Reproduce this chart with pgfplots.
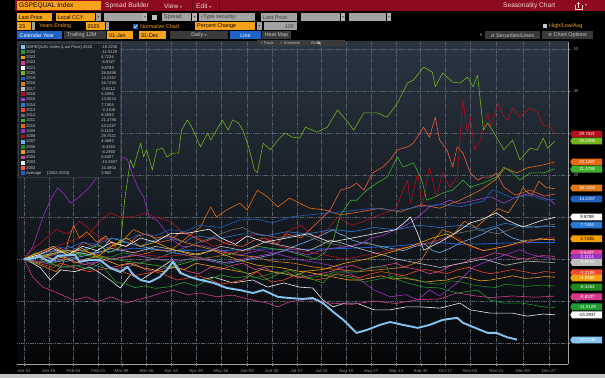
\documentclass[border=0pt]{standalone}
\usepackage{pgfplots}
\pgfplotsset{compat=1.18}
\usepackage{fontspec}
\setmainfont{Liberation Sans}
\newfontfamily\dejavu{DejaVu Sans}
\usetikzlibrary{shapes.symbols}
\definecolor{tbred}{HTML}{8E0B1F}
\definecolor{tbredtxt}{HTML}{F2D6D6}
\definecolor{tborange}{HTML}{F7A21B}
\definecolor{tbgrey}{HTML}{A3A3A3}
\definecolor{tbgtxt}{HTML}{3A3A3A}
\definecolor{tbdark}{HTML}{3A3A3A}
\definecolor{tbdtxt}{HTML}{C4C4C4}
\definecolor{tbblue}{HTML}{1E63C6}
\definecolor{bgtop}{HTML}{2A3542}
\definecolor{bgbot}{HTML}{040506}
\definecolor{gridc}{HTML}{56606B}
\definecolor{legbg}{HTML}{1B2129}
\definecolor{legbd}{HTML}{333B45}
\definecolor{legtxt}{HTML}{C8C8C8}
\definecolor{c2025}{HTML}{84C4F2}
\definecolor{c2024}{HTML}{1E9A2E}
\definecolor{c2023}{HTML}{F5A000}
\definecolor{c2022}{HTML}{D6398C}
\definecolor{c2021}{HTML}{F4F4F4}
\definecolor{c2020}{HTML}{70B41E}
\definecolor{c2019}{HTML}{1F5FBF}
\definecolor{c2018}{HTML}{E07818}
\definecolor{c2017}{HTML}{BEBEBE}
\definecolor{c2016}{HTML}{B01020}
\definecolor{c2015}{HTML}{A040D0}
\definecolor{c2014}{HTML}{2A7AD4}
\definecolor{c2013}{HTML}{F04830}
\definecolor{c2012}{HTML}{6E6E6E}
\definecolor{c2011}{HTML}{3CB028}
\definecolor{c2010}{HTML}{E86A10}
\definecolor{c2009}{HTML}{9A30C0}
\definecolor{c2008}{HTML}{B40E1C}
\definecolor{c2007}{HTML}{70B0F0}
\definecolor{c2006}{HTML}{208A20}
\definecolor{c2005}{HTML}{F0A010}
\definecolor{c2004}{HTML}{E04090}
\definecolor{c2003}{HTML}{EDEDED}
\definecolor{c2002}{HTML}{F05A40}
\definecolor{cavg}{HTML}{2060D0}
\newcommand{\tba}{\fontsize{6.6}{7}\selectfont}
\newcommand{\tbb}{\fontsize{5.4}{6}\selectfont}
\newcommand{\tri}{{\dejavu\fontsize{3.6}{4}\selectfont ▾}}
\newcommand{\legent}[2]{\hspace{1.4pt}\makebox[75pt][l]{#1}#2}
\begin{document}
\begin{tikzpicture}
\fill[black] (0,0) rectangle (605pt,378pt);
\begin{scope}[x=1pt,y=-1pt,yshift=378pt]
% bottom strip
\fill[gray!45] (0,373.5) rectangle (605,378);
% row 1
\fill[tbred] (15,0) rectangle (605,11);
\fill[tborange] (17,1) rectangle (101,10.5);
\node[anchor=west,inner sep=0,font=\tba,text=black] at (19,5.9) {GSPEQUAL Index};
\node[anchor=west,inner sep=0,font=\tba,text=tbredtxt] at (105,5.9) {Spread Builder};
\node[anchor=west,inner sep=0,font=\tba,text=tbredtxt] at (164,5.9) {View \tri};
\node[anchor=west,inner sep=0,font=\tba,text=tbredtxt] at (196,5.9) {Edit \tri};
\foreach \s in {161.5,192.5,219} \draw[tbred!60!black,line width=0.6pt] (\s,1) -- (\s,10.5);
\node[anchor=west,inner sep=0,font=\tba,text=tbredtxt] at (503,5.9) {Seasonality Chart};
\draw[tbredtxt,line width=0.6pt] (575,5) -- (575,9) -- (582,9) -- (582,5);
\draw[tbredtxt,line width=0.6pt] (578.5,8) -- (578.5,2.5) (576.8,4.2) -- (578.5,2.5) -- (580.2,4.2);
\node[anchor=west,inner sep=0,font=\tbb,text=tbredtxt] at (585,6) {\tri};
% row 2
\fill[tborange] (17,13) rectangle (52,21.5);
\node[anchor=west,inner sep=0,font=\tbb,text=black] at (18.5,17.4) {Last Price};
\fill[tborange] (56,13) rectangle (95,21.5);
\node[anchor=west,inner sep=0,font=\tbb,text=black] at (57.5,17.4) {Local CCY};
\fill[tbgrey] (96,13) rectangle (101,21.5);
\node[inner sep=0,text=tbgtxt] at (98.5,17.4) {\tri};
\fill[tbgrey] (104,13) rectangle (142.5,21.5);
\fill[tbgrey!80] (143,13) rectangle (147,21.5);
\node[inner sep=0,text=tbgtxt] at (145,17.4) {\tri};
\fill[tbgrey!70] (152,14.8) rectangle (157,19.8);
\fill[tbgrey] (162,13) rectangle (191,21.5);
\node[anchor=west,inner sep=0,font=\tbb,text=tbgtxt] at (164,17.4) {Spread};
\fill[tbgrey!80] (192,13) rectangle (197,21.5);
\node[inner sep=0,text=tbgtxt] at (194.5,17.4) {\tri};
\fill[tbgrey] (199,13) rectangle (255,21.5);
\node[anchor=west,inner sep=0,font=\tbb,text=tbgtxt] at (201,17.4) {‹Type security›};
\fill[tbgrey] (261,13) rectangle (297,21.5);
\node[anchor=west,inner sep=0,font=\tbb,text=tbgtxt] at (263,17.4) {Last Price};
\fill[tbgrey] (301,13) rectangle (340,21.5);
\fill[tbgrey!80] (341,13) rectangle (345,21.5);
\node[inner sep=0,text=tbgtxt] at (343,17.4) {\tri};
\fill[tbgrey] (349,13) rectangle (386,21.5);
\fill[tbgrey!80] (387,13) rectangle (391,21.5);
\node[inner sep=0,text=tbgtxt] at (389,17.4) {\tri};
% row 3
\fill[tborange] (17,22.5) rectangle (31,30);
\node[anchor=west,inner sep=0,font=\tbb,text=black] at (19,26.4) {23};
\fill[tbgrey] (31.5,22.5) rectangle (35,30);
\node[anchor=west,inner sep=0,font=\tbb,text=tborange] at (39,26.4) {Years Ending};
\fill[tborange] (86,22.5) rectangle (105,30);
\node[anchor=west,inner sep=0,font=\tbb,text=black] at (87.5,26.4) {2025};
\fill[tbgrey] (105.5,22.5) rectangle (109,30);
\fill[tbblue] (133,23.8) rectangle (138,28.8);
\draw[white,line width=0.5pt] (134,26.3) -- (135.3,27.7) -- (137.2,24.8);
\node[anchor=west,inner sep=0,font=\tbb,text=tborange] at (140,26.4) {Normalize Chart};
\fill[tborange] (195,22.5) rectangle (255,30);
\node[anchor=west,inner sep=0,font=\tbb,text=black] at (197,26.4) {Percent Change};
\fill[tbgrey] (257,22.5) rectangle (262,30);
\node[inner sep=0,text=tbgtxt] at (259.5,26.4) {\tri};
\fill[tbgrey] (264,22.5) rectangle (297,30);
\node[anchor=east,inner sep=0,font=\tbb,text=tbgtxt] at (294,26.4) {100};
\fill[tbgrey!60] (543,24.3) rectangle (547,28.3);
\node[anchor=west,inner sep=0,font=\tbb,text=tborange] at (549,26.4) {High/Low/Avg};
% row 4
\fill[tbblue] (17,31) rectangle (62,39.5);
\node[anchor=west,inner sep=0,font=\tbb,text=white] at (19.5,35.4) {Calendar Year};
\fill[tbdark] (64,31) rectangle (106,39.5);
\node[anchor=west,inner sep=0,font=\tbb,text=tbdtxt] at (67,35.4) {Trailing 12M};
\fill[tborange] (107,31) rectangle (133,39.5);
\node[anchor=west,inner sep=0,font=\tbb,text=black] at (109,35.4) {01-Jan};
\node[inner sep=0,font=\tbb,text=tborange] at (136,35.4) {-};
\fill[tborange] (139,31) rectangle (166,39.5);
\node[anchor=west,inner sep=0,font=\tbb,text=black] at (141,35.4) {31-Dec};
\fill[tbdark] (170,31) rectangle (228,39.5);
\node[inner sep=0,font=\tbb,text=tbdtxt] at (199,35.4) {Daily \tri};
\fill[tbblue] (230,31) rectangle (261,39.5);
\node[inner sep=0,font=\tbb,text=white] at (245.5,35.4) {Line};
\fill[tbdark] (262,31) rectangle (291,39.5);
\node[inner sep=0,font=\tbb,text=tbdtxt] at (276.5,35.4) {Heat Map};
\node[inner sep=0,font=\tbb,text=tbdtxt] at (481,35.4) {«};
\fill[tbdark] (485,31) rectangle (540,39.5);
\node[inner sep=0,font=\tbb,text=tbdtxt] at (512.5,35.4) {{\dejavu\fontsize{4.5}{5}\selectfont ⇄} Securities/Lines};
\fill[tbdark] (542,31) rectangle (593,39.5);
\node[inner sep=0,font=\tbb,text=tbdtxt] at (567.5,35.4) {{\dejavu\fontsize{4.5}{5}\selectfont ⚙} Chart Options};
\end{scope}

\begin{axis}[
  at={(17pt,14pt)}, anchor=south west, scale only axis,
  width=551pt, height=322pt,
  xmin=-4.8, xmax=373, ymin=-25, ymax=51.67,
  axis background/.style={top color=bgtop, bottom color=bgbot},
  axis x line*=bottom, axis y line*=right,
  axis line style={-, draw=gray!75, line width=0.5pt},
  xtick={0,17,34,51,67,84,101,118,135,153,170,187,204,221,238,255,272,289,306,324,342,360},
  xticklabels={Jan-01,Jan-18,Feb-04,Feb-21,Mar-09,Mar-26,Apr-12,Apr-29,May-16,Jun-03,Jun-20,Jul-07,Jul-24,Aug-10,Aug-27,Sep-13,Sep-30,Oct-17,Nov-03,Nov-21,Dec-09,Dec-27},
  ytick={-20,-10,0,10,20,30,40,50},
  grid=major, major grid style={dash pattern=on 1.2pt off 0.6pt, gridc, line width=0.45pt},
  tick align=outside, major tick length=2pt, tick style={gray!75, line width=0.4pt},
  tick label style={font=\fontsize{4.4}{5}\selectfont, text=gray!85},
  xticklabel style={yshift=0.5pt},
  /pgf/number format/assume math mode=true,
  every axis plot/.append style={line width=0.6pt, line join=round},
  reverse legend,
  legend cell align=left,
  legend image code/.code={\fill[#1,draw=none] (0pt,-1.8pt) rectangle (3.8pt,1.9pt);},
  legend style={at={(axis description cs:0,1)}, anchor=north west, xshift=1pt, yshift=-1pt,
    fill=legbg, draw=legbd, line width=0.4pt, text=legtxt,
    font=\fontsize{4.1}{4.5}\selectfont, inner xsep=2.5pt, inner ysep=1.5pt,
    row sep=0.56pt, nodes={inner sep=0.35pt, text height=3.1pt, text depth=0.9pt}},
]
% Average
\addplot[cavg, line width=0.8pt] coordinates {(0,0) (15,0.8) (30,1.2) (45,1.5) (60,1.8) (75,2.6) (90,2.2) (105,2) (120,2.1) (135,2.0) (150,2.2) (165,2.4) (180,2.2) (195,2.3) (210,2.4) (225,2.6) (240,2.8) (255,3.1) (270,3.6) (285,3.9) (300,3.5) (315,3.6) (330,3.8) (345,3.9) (364,3.96)};
% 2002
\addplot[c2002] coordinates {(0,0) (10,-1) (18,1.5) (25,2.5) (33,1) (40,4) (48,3) (55,5) (63,3.5) (70,3) (78,5.5) (85,6) (93,4) (100,4.5) (108,6.5) (115,5.5) (123,4) (130,5) (140,3.5) (150,3) (158,4.5) (165,5) (173,3.5) (180,6) (190,5) (196,7) (201,8.6) (210,11.7) (217,16.4) (224,17.1) (228,18.1) (233,16.4) (239,20.5) (246,21.9) (251,23.6) (256,26) (263,26.7) (267,27.6) (274,31.4) (278,29) (282,33.8) (285,28.3) (290,26) (294,21.9) (297,26.7) (301,25.2) (306,20.5) (311,18.8) (315,19.5) (320,19.5) (324,20.5) (329,17.1) (337,15.2) (347,16.4) (357,15) (364,15.49)};
% 2003
\addplot[c2003] coordinates {(0,0) (6,-1) (11,-2) (18,-5) (25,-2.6) (35,-3) (45,-1.9) (52,-3.3) (59,-5) (66,-6.9) (74,-3.3) (80,-5) (91,-2.6) (102,-0.2) (108,-3.3) (114,-4.3) (121,-5) (130,-4.3) (143,-5.7) (157,-5) (167,-6.7) (178,-5.7) (189,-6.7) (198,-6.9) (205,-9.8) (212,-11.4) (220,-10.5) (228,-10.5) (240,-12.1) (251,-12.1) (262,-11.4) (272,-11.4) (285,-11.7) (299,-10.5) (306,-12.1) (320,-12.9) (335,-12.9) (345,-13.6) (356,-13.1) (364,-13.29)};
% 2004
\addplot[c2004] coordinates {(0,0) (8,0.5) (15,1) (22,-0.5) (30,0) (38,-1) (45,-1.5) (52,-0.5) (60,-2) (68,-1.5) (75,-1) (83,-2.5) (90,-3) (98,-2) (105,-2) (113,-3) (120,-3.5) (128,-2) (135,-2.5) (143,-1.5) (150,-1) (158,-2.5) (165,-2) (173,-3.5) (180,-3) (188,-4.5) (195,-4) (203,-3.5) (210,-3) (218,-2) (225,-1.5) (233,-2.5) (240,-2) (248,-1.5) (255,-1) (262,-2) (270,-2.5) (278,-3.5) (285,-3) (293,-1.5) (300,-1) (308,0) (315,0.5) (323,1.5) (330,1) (338,0.2) (345,0) (355,0.8) (364,0.64)};
% 2005
\addplot[c2005] coordinates {(0,0) (10,1) (20,0) (28,0.5) (35,-1) (42,0) (50,0.5) (58,-0.5) (65,-1.5) (72,-1) (80,-2) (88,-2.5) (95,-3) (102,-2) (110,-2.5) (118,-1) (125,-1.5) (133,-2) (140,-2.5) (148,-3) (155,-3.5) (163,-2.5) (170,-3) (178,-3.5) (185,-4) (193,-3) (200,-3.5) (208,-4) (215,-4.5) (223,-5) (230,-5) (238,-4.5) (245,-4) (253,-4.8) (260,-4.5) (268,-5) (275,-5.5) (283,-5.2) (290,-5) (298,-4.2) (305,-4.5) (313,-5.2) (320,-5) (328,-4.5) (335,-4) (343,-4.6) (350,-4.5) (357,-4.2) (364,-4.30)};
% 2006
\addplot[c2006] coordinates {(0,0) (8,0.5) (15,1) (23,1.5) (30,2) (38,1) (45,1.5) (53,0.5) (60,0.5) (68,1.5) (75,1) (83,0.5) (90,0) (98,-0.5) (105,-1) (113,0) (120,0.5) (128,-0.5) (135,-1) (143,-2) (150,-3) (158,-4.5) (165,-4) (173,-3) (180,-3.5) (188,-4) (195,-4.5) (203,-4) (210,-3.5) (218,-4) (225,-4.5) (233,-5.5) (240,-5) (248,-4.5) (255,-4) (263,-4.5) (270,-5) (278,-5.8) (285,-6) (293,-5.2) (300,-5.5) (308,-6.2) (315,-6.5) (323,-6.8) (330,-6) (338,-6.3) (345,-6.5) (355,-6.2) (364,-6.42)};
% 2007
\addplot[c2007] coordinates {(0,0) (8,1) (15,0.5) (22,-0.5) (30,-0.5) (38,0.5) (45,1) (50,2) (55,3) (60,5) (65,4.5) (70,4) (75,3.5) (80,3) (88,2.5) (95,2) (103,1.5) (110,1) (118,0.5) (125,0) (133,-0.5) (140,-1) (148,-0.5) (155,0) (163,0.5) (170,1) (178,2) (185,3) (193,4) (200,5) (206,6) (212,7) (216,6) (220,5.5) (225,4.5) (230,4) (238,3.5) (245,3) (252,2.5) (260,2) (268,3) (275,3.5) (280,2) (285,1.5) (292,2.5) (300,4) (308,5) (315,6) (320,7) (325,7.5) (330,6) (335,5) (340,4.5) (345,4) (350,4.5) (355,5) (364,4.47)};
% 2008
\addplot[c2008] coordinates {(0,0) (8,1) (15,2) (22,3) (30,4) (38,5) (45,6) (52,9) (59,11) (66,10) (75,10) (83,11) (90,10) (100,9) (105,7.5) (110,6) (120,5) (130,3) (140,4) (150,5) (160,6) (168,5.5) (175,5) (183,7) (190,8) (200,5) (208,7) (215,10) (225,8) (233,9) (240,10) (248,11) (255,12) (260,16.4) (263,18.8) (265,13.3) (270,20.5) (273,12.4) (278,21.9) (283,14.8) (287,20.5) (292,17.1) (297,19.5) (301,37.9) (304,30) (306,33.8) (309,26) (313,28.3) (318,34.8) (320,31.4) (325,37.1) (329,33.8) (332,33.1) (335,36) (340,33.8) (347,36) (352,35) (356,31.9) (361,31.4) (364,29.75)};
% 2009
\addplot[c2009] coordinates {(0,0) (6,2.9) (13,10) (18,14) (23,16.9) (27,15.7) (32,13.3) (38,14.8) (45,17.1) (50,19.5) (54,22.9) (59,22.9) (67,24.3) (71,23.6) (74,20.5) (78,17.1) (82,14.8) (86,10) (91,9.3) (98,6.2) (102,4.5) (109,2.9) (121,3.3) (134,2.1) (148,1) (162,2.1) (176,1) (189,-0.2) (203,-1) (215,-1.9) (228,-4.3) (240,-7.4) (251,-9) (262,-8.5) (270,-9.8) (278,-7.4) (285,-8.8) (297,-5.7) (308,-1.9) (318,-0.5) (326,0.5) (334,1.5) (340,2.2) (348,1) (356,0.5) (364,0.11)};
% 2010
\addplot[c2010] coordinates {(0,0) (10,0.5) (20,1) (30,2) (40,2) (50,1) (60,0) (70,0.5) (80,1) (90,2) (100,2) (106,3.5) (112,5.2) (121,7.6) (128,12.4) (132,10) (139,11.7) (148,13.3) (153,11.7) (160,16.4) (167,14.8) (174,12.4) (182,14.5) (189,13.3) (196,12.1) (206,11.7) (217,10.5) (230,11.2) (244,12.1) (258,11.2) (272,12.9) (285,12.1) (299,14) (313,16.4) (323,18.8) (330,21.7) (338,20.5) (345,21.7) (356,22.4) (364,23.13)};
% 2011
\addplot[c2011] coordinates {(0,0) (10,0.5) (20,-1) (30,0) (40,1) (50,0.5) (60,0) (70,-0.5) (80,-1) (90,-1.5) (100,-2) (110,-1) (120,0) (130,0.5) (140,1) (150,2) (160,3) (170,2.5) (180,2) (190,1) (200,0) (206,1.5) (212,4.5) (217,10.5) (224,14) (228,14) (235,16.4) (242,18.1) (249,19.5) (256,24.3) (260,21.9) (267,22.9) (272,19.5) (274,17.1) (276,14) (282,14.8) (287,15.7) (294,16.4) (301,18.8) (306,17.1) (315,18.1) (324,19.5) (329,21.9) (335,20.5) (340,18.8) (347,20.5) (356,20.5) (364,21.48)};
% 2012
\addplot[c2012] coordinates {(0,0) (8,-0.5) (15,-1) (23,-1.5) (30,-2) (38,-1.5) (45,-1) (53,-2) (60,-2.5) (68,-2) (75,-1.5) (83,-0.5) (90,0) (98,1) (105,2) (113,3) (120,4) (128,5) (135,6) (143,7) (150,7.5) (155,6.5) (160,6) (168,5.5) (175,5) (183,5.5) (190,6) (198,5) (205,4) (213,3.5) (220,3) (228,3.5) (235,4) (243,3) (250,2) (258,2.5) (265,3) (273,3.5) (280,4) (288,5) (295,6) (303,6.5) (310,7) (318,6.5) (325,6) (333,7) (340,8) (346,7.8) (352,7.5) (358,8) (364,8.27)};
% 2013
\addplot[c2013] coordinates {(0,0) (10,-1) (20,-2) (25,-1) (30,-1.5) (38,-2.5) (45,-3) (53,-2.5) (60,-2) (68,-3) (75,-4) (83,-3.5) (90,-3) (98,-4) (105,-5) (113,-4.5) (120,-4) (128,-5) (135,-6) (143,-5.5) (150,-5) (155,-4) (160,-3) (165,-4.5) (170,-5.5) (178,-5) (185,-4) (193,-4.5) (200,-5) (208,-4.5) (215,-3.5) (223,-4) (230,-4.5) (238,-3.5) (245,-3) (253,-3.5) (260,-4) (268,-3) (275,-2.5) (283,-3) (290,-3.5) (298,-2.5) (305,-2) (313,-3) (320,-3.5) (328,-3) (335,-2.5) (343,-3) (350,-3.5) (357,-3) (364,-3.21)};
% 2014
\addplot[c2014] coordinates {(0,0) (10,1) (20,2) (25,1.5) (30,3) (35,2.5) (40,2) (45,3) (50,3.5) (55,2.5) (60,3) (65,4) (70,4) (75,3.5) (80,3) (85,4) (90,4.5) (95,5) (100,5) (105,4.5) (110,4) (115,5) (120,5.5) (128,5) (135,5) (143,5.5) (150,6) (158,6) (165,5.5) (173,6) (180,6.5) (188,6.2) (195,6) (203,6.5) (210,7) (218,6.8) (225,6.5) (233,7) (240,7.5) (248,7.2) (255,7) (263,7.5) (270,8) (278,7.8) (285,7.5) (293,7.8) (300,8) (308,7.5) (315,7) (323,7.8) (330,8.5) (338,8) (345,7.5) (355,7.8) (364,7.74)};
% 2015
\addplot[c2015] coordinates {(0,0) (8,-0.5) (15,-1) (23,-0.5) (30,0.5) (38,0) (45,-1) (53,-0.5) (60,0) (68,0.5) (75,1) (83,0.5) (90,0) (98,-0.2) (105,-0.5) (113,0) (120,0) (128,-0.5) (135,-1) (143,-0.5) (150,0) (158,0.5) (165,1) (173,1.5) (180,2) (188,1.5) (195,1) (203,2) (210,2.5) (218,2.8) (225,3) (230,3.5) (238,5) (245,5.5) (255,7) (262,8) (270,10) (278,12.4) (285,13) (292,14) (298,13.2) (304,13.6) (312,14.2) (320,14.8) (329,13.3) (338,14.8) (347,15.7) (354,14.8) (361,14) (364,13.0)};
% 2016
\addplot[c2016] coordinates {(0,0) (4,1.5) (8,3) (12,4) (15,5) (19,6) (22,7) (26,6.5) (30,6) (34,7.5) (38,9) (42,8) (45,7) (49,6) (52,5) (56,4) (60,3) (65,2.5) (70,2) (75,1.5) (80,1) (88,0.8) (95,0.5) (103,0.8) (110,1) (118,0.5) (125,0) (133,0.8) (140,1.5) (148,1.8) (155,2) (162,3.5) (168,5) (172,4) (175,3) (183,2.5) (190,2) (198,1.5) (205,1) (213,0.5) (220,0) (228,0.5) (235,1) (243,1.5) (250,2) (258,2.5) (265,3) (273,3.5) (280,4) (288,4.8) (295,5.5) (300,4.5) (305,3) (310,2.5) (315,2) (323,2.5) (330,3) (338,3.5) (345,4) (355,4.8) (364,5.21)};
% 2017
\addplot[c2017] coordinates {(0,0) (8,0.5) (15,1) (23,1.5) (30,2) (38,1.5) (45,1) (53,1.8) (60,2.5) (68,2) (75,1.5) (83,2.2) (90,3) (98,2.5) (105,2) (113,1.5) (120,1) (128,2) (135,3) (143,2.5) (150,2) (158,3) (165,4) (173,3.5) (180,3) (188,2.5) (195,2) (203,3.2) (210,4.5) (218,3.8) (225,3) (233,2.2) (240,1.5) (248,0.8) (255,0) (263,-0.5) (270,-1) (278,-1.5) (285,-2) (293,-1.5) (300,-1) (308,-0.5) (315,0) (323,-0.8) (330,-1.5) (338,-1) (345,-0.5) (355,-0.7) (364,-0.82)};
% 2018
\addplot[c2018] coordinates {(0,0) (8,-1) (15,-2) (22,-3) (27,-1) (30,4) (34,8) (38,5) (43,6.5) (50,4) (56,5.5) (62,3) (68,4.5) (75,7) (82,6) (90,5) (100,5.5) (110,4) (120,3) (132,2) (145,1) (158,0.5) (170,-0.5) (185,-1) (200,-2) (215,-2.5) (230,-3) (245,-2.5) (260,-2) (272,-0.5) (280,4) (287,7) (295,6) (302,9) (310,7.5) (318,10) (325,12) (332,11) (338,14) (342,17) (348,15) (353,18.5) (358,17) (364,16.73)};
% 2019
\addplot[c2019] coordinates {(0,0) (10,1.5) (20,3) (30,2.5) (40,4) (50,3.5) (60,5) (70,4.5) (80,6) (90,5.5) (100,7) (110,6.5) (120,8) (135,7.5) (148,9.3) (160,9.5) (170,8.6) (183,10) (195,10.5) (210,11) (225,11.5) (240,12.1) (255,11.5) (270,12.4) (285,13) (300,12.5) (315,13.8) (321,16.4) (324,16.2) (335,14.5) (347,15.2) (357,14) (364,14.22)};
% 2020
\addplot[c2020] coordinates {(0,0) (8,1.5) (15,0.5) (25,2.1) (35,1) (45,2.5) (52,3.3) (58,1.5) (62,2.1) (66,2.9) (69,14) (73,23.6) (75,21.7) (80,27.6) (82,24.3) (84,26) (88,21.2) (91,26) (95,26.4) (98,24.3) (102,25.2) (106,25.2) (108,30.7) (112,33.1) (115,31.4) (121,26.7) (126,30) (128,28.3) (132,30.7) (136,33.1) (140,30.7) (143,33.1) (147,32.4) (150,30.7) (154,26.7) (158,21.2) (160,20.5) (164,27.6) (169,26) (174,28.3) (179,30) (184,29) (189,28.8) (193,31.4) (201,30.2) (208,31.4) (215,35.5) (222,32.6) (226,30.7) (233,34.8) (242,34.8) (249,33.8) (256,37.1) (263,41.9) (267,42.6) (274,45.7) (280,44.5) (282,41) (287,44.3) (294,42.1) (299,41.9) (304,43.3) (308,41) (311,43.8) (315,30.7) (318,32.4) (324,29) (329,26) (335,28.3) (340,23.6) (347,26.4) (352,26) (356,28.8) (359,26.4) (364,28.05)};
% 2021
\addplot[c2021] coordinates {(0,0) (10,1) (20,2.5) (30,1) (40,3) (50,2) (60,4) (70,3) (80,5) (90,4) (100,6) (113,6.2) (127,7.1) (135,5) (145,3.5) (153,5.5) (165,4) (180,5) (195,6) (210,4) (225,5) (240,6) (255,7) (262,9) (265,10) (270,6) (274,2.1) (285,4) (295,6) (306,8.6) (313,9.3) (324,11) (331,9.3) (342,7.6) (356,9.3) (364,9.88)};
% 2022
\addplot[c2022] coordinates {(0,0) (6,-4.3) (13,-6.7) (23,-8.1) (34,-9.8) (43,-9) (50,-10.2) (60,-9) (70,-10.5) (80,-9.5) (86,-9) (95,-8) (102,-7.4) (112,-8.5) (121,-8.1) (132,-9) (143,-8.6) (157,-9.8) (167,-10.5) (174,-11.4) (182,-10.2) (195,-9.5) (210,-10.5) (225,-10.8) (240,-10) (255,-10.6) (270,-9.7) (285,-9.5) (297,-8.1) (310,-8.8) (320,-9.2) (335,-8.8) (350,-9.1) (364,-8.83)};
% 2023
\addplot[c2023] coordinates {(0,0) (10,1.5) (20,3) (30,1) (40,2.5) (50,0.5) (60,3) (70,5) (80,3) (90,4) (100,2.5) (115,1) (130,2) (145,0) (160,-1.5) (175,-2) (190,-3) (205,-2.5) (220,-1) (235,0) (250,1.5) (265,3) (280,5) (290,6) (300,4) (315,2) (330,3) (345,4.5) (364,4.72)};
% 2024
\addplot[c2024] coordinates {(0,0) (8,-1) (15,-0.5) (25,-2) (35,-1.5) (45,-2.5) (52,-1) (57,-3) (63,-5.5) (70,-6) (76,-6.8) (83,-6.4) (90,-7) (100,-6.6) (110,-5.5) (118,-6.5) (125,-5.2) (135,-3.8) (145,-4.5) (155,-4) (165,-5) (175,-3.5) (182,-2.6) (194,-4.3) (205,-5.7) (212,-3.1) (228,-3.1) (239,-1.9) (249,-1.9) (251,-4.3) (263,-5.7) (274,-6.7) (285,-6.9) (297,-8.1) (311,-7.4) (320,-9.8) (329,-10.5) (342,-10.5) (356,-11.4) (364,-11.51)};
% 2025
\addplot[c2025, line width=1.9pt] coordinates {(0,0) (4,0) (11,0.5) (18,-0.7) (23,0.7) (35,1) (38,-0.7) (45,-0.2) (52,-0.2) (59,-2.1) (66,-3.1) (71,-1.9) (75,-3.8) (80,-5) (86,-5.5) (93,-4.3) (98,-2.6) (102,-0.7) (107,-3.3) (114,-4.3) (121,-5) (130,-5.7) (139,-6.9) (148,-7.4) (157,-8.1) (164,-7.4) (174,-9) (182,-9.3) (191,-9.5) (198,-9.3) (205,-10.5) (212,-12.6) (219,-14.5) (228,-17.6) (235,-16.9) (244,-15.7) (251,-15) (260,-15.7) (270,-16.4) (278,-15.7) (287,-14.5) (297,-14) (301,-15.2) (308,-16.2) (318,-17.6) (324,-17.6) (331,-18.6) (338,-19.2)};
\legend{\legent{Average\hspace{6pt}[2002-2024]}{3.962},\legent{2002}{15.4904},\legent{2003}{-13.2937},\legent{2004}{0.6407},\legent{2005}{-4.2960},\legent{2006}{-6.4163},\legent{2007}{4.4693},\legent{2008}{29.7521},\legent{2009}{0.1124},\legent{2010}{23.1287},\legent{2011}{21.4786},\legent{2012}{8.2692},\legent{2013}{-3.2108},\legent{2014}{7.7404},\legent{2015}{13.0024},\legent{2016}{5.2096},\legent{2017}{-0.8212},\legent{2018}{16.7294},\legent{2019}{14.2157},\legent{2020}{28.0496},\legent{2021}{9.8789},\legent{2022}{-8.8327},\legent{2023}{4.7226},\legent{2024}{-11.5129},\legent{GSPEQUAL Index (Last Price) 2025}{-19.2236}}
\coordinate (L1) at (axis cs:373,29.76);
\coordinate (L2) at (axis cs:373,28.1);
\coordinate (L3) at (axis cs:373,23.1);
\coordinate (L4) at (axis cs:373,21.4);
\coordinate (L5) at (axis cs:373,16.9);
\coordinate (L6) at (axis cs:373,14.3);
\coordinate (L7) at (axis cs:373,10.0);
\coordinate (L8) at (axis cs:373,8.1);
\coordinate (L9) at (axis cs:373,4.8);
\coordinate (L10) at (axis cs:373,1.4);
\coordinate (L11) at (axis cs:373,0.4);
\coordinate (L12) at (axis cs:373,-0.8);
\coordinate (L13) at (axis cs:373,-3.3);
\coordinate (L14) at (axis cs:373,-4.5);
\coordinate (L15) at (axis cs:373,-6.7);
\coordinate (L16) at (axis cs:373,-9.0);
\coordinate (L17) at (axis cs:373,-11.4);
\coordinate (L18) at (axis cs:373,-13.3);
\coordinate (L19) at (axis cs:373,-19.3);
\end{axis}
\tikzset{lab/.style={signal, signal to=west, signal pointer angle=120, minimum width=32pt, minimum height=6.8pt, inner sep=0.5pt, font=\fontsize{4.4}{4.6}\selectfont, anchor=west, draw=none}}
\node[lab, fill=c2008, text=white] at ([xshift=2pt]L1) {29.7521};
\node[lab, fill=c2020, text=white] at ([xshift=2pt]L2) {28.0496};
\node[lab, fill=c2010, text=white] at ([xshift=2pt]L3) {23.1287};
\node[lab, fill=c2011, text=white] at ([xshift=2pt]L4) {21.4786};
\node[lab, fill=c2018, text=white] at ([xshift=2pt]L5) {16.7294};
\node[lab, fill=c2019, text=white] at ([xshift=2pt]L6) {14.2157};
\node[lab, fill=white, text=black] at ([xshift=2pt]L7) {9.8789};
\node[lab, fill=c2014, text=white] at ([xshift=2pt]L8) {7.7404};
\node[lab, fill=c2023, text=black] at ([xshift=2pt]L9) {4.7226};
\node[lab, fill=c2004, text=white] at ([xshift=2pt]L10) {0.6407};
\node[lab, fill=c2009, text=white] at ([xshift=2pt]L11) {0.1124};
\node[lab, fill=c2017, text=white] at ([xshift=2pt]L12) {-0.8212};
\node[lab, fill=c2013, text=white] at ([xshift=2pt]L13) {-3.2108};
\node[lab, fill=c2005, text=white] at ([xshift=2pt]L14) {-4.2960};
\node[lab, fill=c2006, text=white] at ([xshift=2pt]L15) {-6.4163};
\node[lab, fill=c2022, text=white] at ([xshift=2pt]L16) {-8.8327};
\node[lab, fill=c2024, text=white] at ([xshift=2pt]L17) {-11.5129};
\node[lab, fill=white, text=black] at ([xshift=2pt]L18) {-13.2937};
\node[lab, fill=c2025, text=white] at ([xshift=2pt]L19) {-19.2236};
\begin{scope}[x=1pt,y=-1pt,yshift=378pt]
\fill[tbdark] (257,40) rectangle (345,46.5);
\node[anchor=west,inner sep=0,font=\fontsize{4}{4.5}\selectfont,text=tbdtxt] at (260,43.3) {+ Track\hspace{6pt}{\dejavu ✓} Annotate\hspace{11pt}Zoom};
\draw[tbdtxt,line width=0.4pt] (318.5,42.6) circle (1.2) (319.4,43.5) -- (320.6,44.7);
\end{scope}
\end{tikzpicture}
\end{document}
